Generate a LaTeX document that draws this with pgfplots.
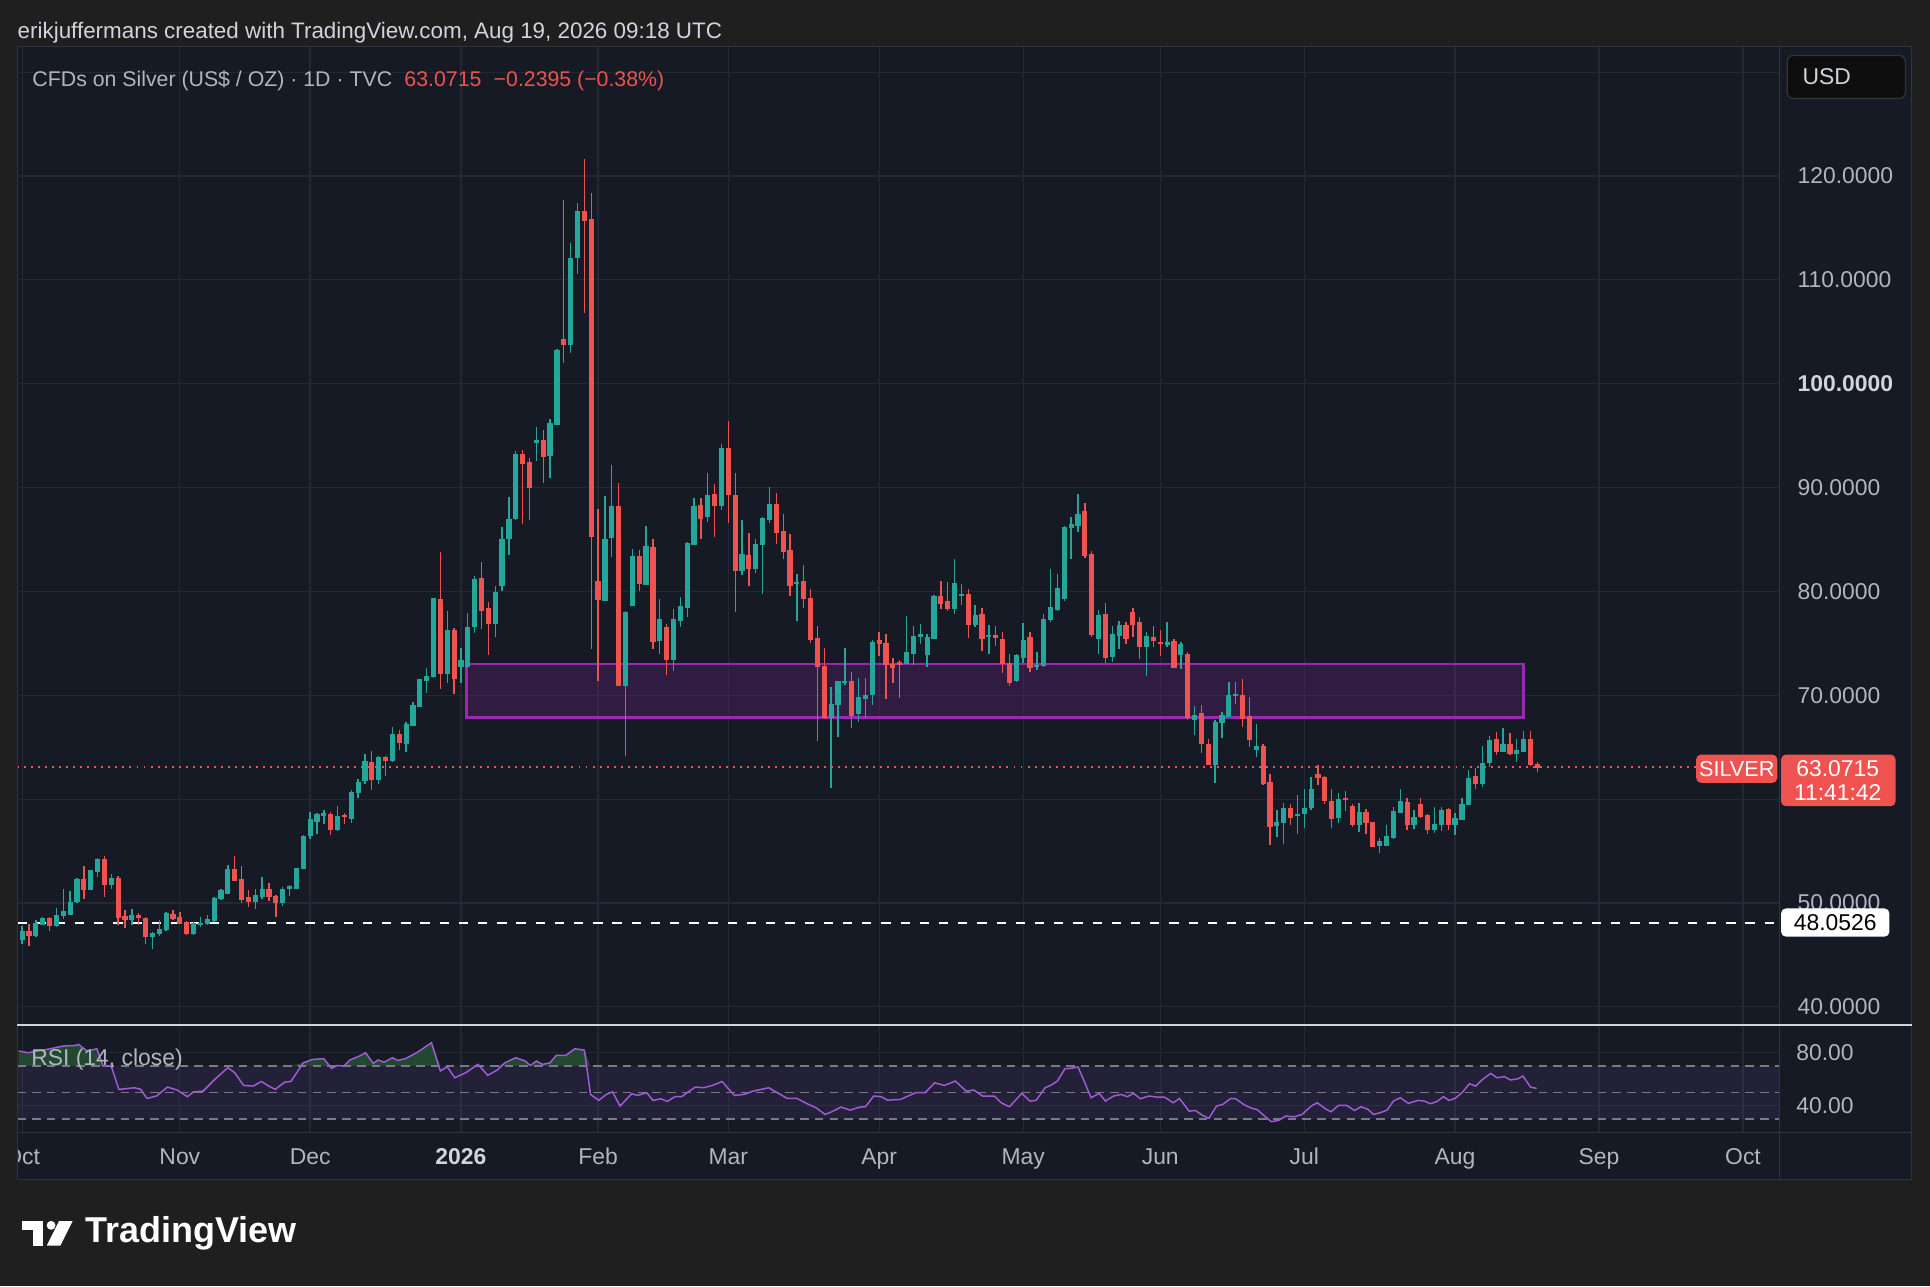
\documentclass[border=0pt]{standalone}
\usepackage{fontspec}
\setmainfont{Liberation Sans}
\usepackage{pgfplots}
\pgfplotsset{compat=1.18}
\usepackage{pgfplotstable}
\definecolor{outerbg}{RGB}{31,31,31}
\definecolor{panebg}{RGB}{22,26,37}
\definecolor{gridc}{RGB}{36,40,52}
\definecolor{borderc}{RGB}{48,52,62}
\definecolor{labc}{RGB}{178,181,190}
\definecolor{headc}{RGB}{209,212,220}
\definecolor{upc}{RGB}{38,166,154}
\definecolor{dnc}{RGB}{239,83,80}
\definecolor{boxc}{RGB}{156,39,176}
\definecolor{rsic}{RGB}{160,92,214}
\definecolor{bandc}{RGB}{126,87,194}
\definecolor{obc}{RGB}{34,72,50}
\definecolor{dashc}{RGB}{120,123,134}
\newcommand{\fs}{\fontsize{9.3}{11}\selectfont}

\pgfplotstableread{
i o h l c
0 46.5 47.8 46.1 47.3
1 47.3 48.0 45.9 46.9
2 46.9 48.4 46.7 48.0
3 47.9 48.7 47.9 48.5
4 48.5 48.7 47.3 47.8
5 47.8 49.5 47.7 48.8
6 48.8 51.3 48.5 49.2
7 48.9 51.2 48.8 50.1
8 50.1 52.4 50.0 52.3
9 52.3 53.6 50.4 51.3
10 51.3 53.2 51.3 53.1
11 53.0 54.3 52.5 54.2
12 54.2 54.5 50.6 51.8
13 51.8 52.8 51.3 52.4
14 52.4 52.6 47.9 48.6
15 48.7 49.3 47.6 48.4
16 48.4 49.4 47.9 48.8
17 48.8 49.0 47.9 48.6
18 48.5 48.7 46.1 46.8
19 46.8 47.2 45.6 47.1
20 47.1 48.4 46.8 47.5
21 47.4 49.1 47.3 49.0
22 48.9 49.3 48.4 48.5
23 48.6 49.1 48.0 48.0
24 48.1 48.3 46.9 47.1
25 47.1 48.2 46.9 48.0
26 47.9 48.7 47.7 48.0
27 48.0 48.8 47.9 48.4
28 48.3 50.6 48.2 50.4
29 50.4 51.3 50.3 51.2
30 50.9 53.7 50.9 53.2
31 53.2 54.5 52.1 52.2
32 52.3 53.6 50.0 50.3
33 50.5 51.3 49.6 50.1
34 50.1 51.3 49.4 50.7
35 50.6 52.5 50.4 51.3
36 51.3 51.9 50.2 50.6
37 50.6 50.8 48.7 50.0
38 50.0 51.5 49.75 51.35
39 51.4 51.7 50.7 51.6
40 51.4 53.4 51.3 53.3
41 53.3 56.55 53.25 56.4
42 56.45 58.8 56.2 58.0
43 57.8 58.7 56.65 58.5
44 58.45 59.0 57.6 58.6
45 58.5 58.75 56.55 57.1
46 57.1 59.3 56.9 58.3
47 58.4 58.7 57.6 58.3
48 58.1 60.9 57.7 60.65
49 60.6 61.9 60.1 61.65
50 61.8 64.3 61.5 63.6
51 63.55 64.6 60.9 61.9
52 61.9 64.15 61.5 64.0
53 64.0 64.15 62.2 63.7
54 63.7 66.9 63.6 66.25
55 66.25 66.7 64.7 65.4
56 65.35 67.4 64.5 67.2
57 67.1 69.4 67.1 69.05
58 68.95 71.6 68.9 71.5
59 71.4 72.65 70.25 71.85
60 71.8 79.4 71.7 79.3
61 79.2 83.8 70.6 72.1
62 72.1 78.15 71.2 76.2
63 76.2 76.45 70.1 71.6
64 72.8 74.6 71.2 73.35
65 72.75 77.95 72.65 76.5
66 76.6 81.45 75.95 81.2
67 81.3 82.8 76.4 78.2
68 78.4 79.0 73.9 76.9
69 76.9 80.5 75.6 79.9
70 80.6 86.2 80.0 85.05
71 85.05 89.1 83.5 86.9
72 87.0 93.5 86.9 93.2
73 93.2 93.65 86.5 92.3
74 92.4 92.8 86.9 90.0
75 94.3 95.8 92.6 94.55
76 94.55 95.5 90.4 93.0
77 93.05 96.6 90.9 96.2
78 96.1 103.3 96.05 103.2
79 104.3 117.7 102.0 103.8
80 103.8 113.5 103.0 112.1
81 112.1 117.4 110.6 116.6
82 116.6 121.6 106.8 115.7
83 115.8 118.4 74.45 85.3
84 81.0 87.9 71.4 79.2
85 79.15 89.2 79.15 85.0
86 85.2 92.2 83.3 88.2
87 88.2 90.4 70.9 70.9
88 70.9 78.1 64.2 78.0
89 78.6 84.06 78.6 83.4
90 83.4 84.0 80.08 80.8
91 80.7 86.3 80.7 84.3
92 84.2 85.0 74.46 75.17
93 75.27 79.3 74.0 77.35
94 76.55 76.87 72.0 73.47
95 73.47 78.28 72.38 77.26
96 77.2 79.5 76.6 78.54
97 78.47 84.77 77.5 84.64
98 84.55 89.03 84.55 88.23
99 88.3 88.97 85.0 87.04
100 87.2 91.4 86.66 89.2
101 89.3 90.35 85.28 88.23
102 88.23 94.2 87.85 93.78
103 93.78 96.41 86.63 89.29
104 89.29 91.4 78.0 82.0
105 82.0 86.9 81.6 83.6
106 83.5 85.6 80.56 82.2
107 82.23 85.05 81.75 84.48
108 84.48 87.14 79.73 87.04
109 86.88 90.09 86.63 88.39
110 88.39 89.45 84.54 85.7
111 85.76 87.43 83.1 83.83
112 83.9 85.5 79.57 80.56
113 80.77 81.65 77.16 80.85
114 80.95 82.55 78.38 79.28
115 79.34 80.2 75.07 75.33
116 75.43 76.71 65.6 72.76
117 72.76 74.53 67.73 67.85
118 67.85 70.84 61.05 69.14
119 69.07 71.38 66.03 71.32
120 71.2 74.53 71.0 71.32
121 71.32 72.22 66.83 68.0
122 68.2 71.64 67.47 69.8
123 69.7 71.7 67.78 70.0
124 70.1 75.33 69.07 75.1
125 75.26 76.13 73.8 75.0
126 75.0 75.9 69.64 72.98
127 73.0 73.6 71.15 72.7
128 73.14 73.4 69.77 72.98
129 73.08 77.67 73.08 74.1
130 74.04 76.67 72.92 75.7
131 75.65 76.86 74.9 75.87
132 73.94 75.9 72.69 75.55
133 75.48 79.66 75.48 79.5
134 79.5 81.0 78.28 78.85
135 79.0 80.87 78.1 78.3
136 78.37 83.09 77.83 80.78
137 79.56 80.68 78.69 79.75
138 79.75 80.2 75.48 76.77
139 76.77 78.69 76.61 77.73
140 77.83 78.44 74.3 75.42
141 75.65 76.77 73.94 75.81
142 75.74 76.67 74.75 75.58
143 75.42 76.13 72.12 73.08
144 73.08 73.94 70.93 71.25
145 71.41 73.97 71.25 73.8
146 73.62 76.99 73.08 75.26
147 75.55 76.06 72.28 72.69
148 72.76 74.2 72.44 72.92
149 72.82 77.83 72.69 77.32
150 77.32 82.16 77.09 78.47
151 78.21 81.64 78.15 80.3
152 79.33 86.3 79.11 86.17
153 86.14 87.2 83.09 86.49
154 86.33 89.38 85.69 87.45
155 87.68 88.48 83.19 83.44
156 83.57 83.89 75.65 75.87
157 75.42 78.21 73.98 77.73
158 77.83 78.92 73.14 73.65
159 73.72 76.67 73.18 75.9
160 75.74 77.16 74.46 76.71
161 76.71 77.03 74.94 75.42
162 77.99 78.38 75.58 76.83
163 77.03 77.51 73.46 74.68
164 74.68 76.06 71.86 75.65
165 75.58 76.71 74.62 75.23
166 75.13 76.29 73.82 75.0
167 74.85 77.03 74.62 75.1
168 75.23 75.39 72.7 72.7
169 73.95 75.1 72.53 74.94
170 73.95 74.14 67.62 67.88
171 67.62 68.97 66.18 68.1
172 68.27 69.07 64.42 65.31
173 65.31 65.76 63.29 63.29
174 63.29 67.62 61.53 67.37
175 67.37 68.43 65.92 68.04
176 67.95 71.32 67.95 69.97
177 69.97 71.25 69.13 70.06
178 70.03 71.57 66.92 67.79
179 67.95 69.87 65.06 65.7
180 64.8 67.21 64.09 65.06
181 65.12 65.28 61.37 61.53
182 61.59 62.39 55.59 57.36
183 57.45 58.96 56.39 57.77
184 57.77 59.6 55.69 59.12
185 59.12 59.51 57.52 58.25
186 58.44 60.4 56.65 58.5
187 58.6 60.98 57.25 59.06
188 59.18 62.1 58.95 60.98
189 62.39 63.29 61.36 62.07
190 62.1 62.23 59.5 59.85
191 59.82 60.98 57.25 58.15
192 58.25 60.56 57.67 59.98
193 60.08 60.78 58.86 59.92
194 59.34 59.5 57.35 57.57
195 57.51 59.66 56.87 58.73
196 58.73 59.05 56.65 57.77
197 57.77 57.83 55.36 55.42
198 55.52 56.23 54.78 55.9
199 55.52 57.51 55.52 56.45
200 56.29 59.21 56.13 58.8
201 58.73 60.94 58.73 59.76
202 59.66 60.08 57.03 57.57
203 57.57 58.95 57.13 58.2
204 59.5 60.08 58.15 58.31
205 58.47 58.54 56.65 57.03
206 57.03 59.21 56.77 57.61
207 57.51 59.27 56.97 58.95
208 59.02 59.18 57.03 57.51
209 57.51 58.63 56.55 58.15
210 58.05 60.08 57.99 59.5
211 59.5 62.8 59.43 62.0
212 62.16 62.96 60.94 61.46
213 61.52 65.15 61.2 63.45
214 63.54 66.08 63.06 65.69
215 65.76 66.5 64.25 64.57
216 64.57 66.82 64.57 65.31
217 65.31 66.34 64.25 64.41
218 64.41 65.76 63.54 64.73
219 64.57 66.59 64.57 65.79
220 65.79 66.59 63.19 63.31
221 63.31 63.6 62.65 63.07
}\candles
\pgfplotstablecreatecol[expr={(\thisrow{o}+\thisrow{c})/2}]{bm}{\candles}
\pgfplotstablecreatecol[expr={abs(\thisrow{c}-\thisrow{o})/2+0.04}]{bh}{\candles}
\pgfplotstablecreatecol[expr={(\thisrow{h}+\thisrow{l})/2}]{wm}{\candles}
\pgfplotstablecreatecol[expr={(\thisrow{h}-\thisrow{l})/2}]{wh}{\candles}

\pgfplotstableread{
i r
-0.5 81.3
0.9 80.0
4.1 83.0
5.9 85.0
7.7 85.5
8.2 86.3
9.5 81.3
10.9 83.0
11.8 69.9
13.0 69.9
14.1 52.3
15.5 53.05
16.4 53.55
17.3 52.3
18.2 45.5
19.6 47.3
21.2 54.1
22.6 51.8
24.1 46.8
25.0 50.5
26.4 51.0
28.2 60.35
30.0 68.7
31.0 64.9
32.3 55.3
33.7 54.8
34.9 58.3
35.8 55.3
36.9 52.3
38.3 57.8
39.2 58.3
41.0 72.4
42.4 75.0
44.0 75.5
45.1 68.2
46.0 70.4
46.9 69.9
47.8 74.5
49.2 77.5
50.1 80.0
51.2 71.9
51.9 74.5
52.8 72.9
54.0 76.2
54.8 74.2
55.9 75.5
57.7 80.5
59.7 87.6
61.0 66.2
62.0 69.4
63.1 61.1
64.7 64.9
66.5 71.2
67.9 62.9
69.3 66.9
70.4 72.4
72.0 76.2
73.4 73.7
74.1 70.4
75.0 73.7
75.9 71.2
77.0 72.4
77.9 78.0
79.3 78.0
80.6 83.0
82.0 82.0
82.9 48.5
84.1 44.0
85.2 48.5
86.1 50.5
87.2 39.7
88.9 49.0
89.8 47.8
91.1 49.8
92.0 44.0
93.2 45.2
94.1 43.2
95.2 46.8
96.2 46.8
97.3 51.0
98.2 54.05
99.4 53.55
100.7 55.3
102.1 58.3
103.0 52.8
103.9 47.8
105.3 48.5
106.6 51.0
108.9 53.55
110.3 49.3
111.6 45.5
113.0 45.5
114.4 41.7
115.8 38.4
117.1 33.4
118.0 35.2
119.4 38.9
120.8 36.7
122.1 38.9
123.0 39.2
124.2 47.3
125.3 46.8
126.2 44.2
128.1 44.7
130.3 49.8
131.7 49.8
133.1 57.3
134.5 55.3
136.1 58.6
137.7 51.0
138.8 51.8
140.1 47.3
141.8 47.3
142.8 42.2
144.0 39.2
145.8 49.3
147.0 43.5
147.9 44.0
149.2 53.55
150.1 55.6
151.0 58.6
152.1 67.9
153.0 68.2
154.0 69.2
154.8 59.8
155.9 46.0
157.1 49.3
158.0 43.5
159.2 47.3
160.3 48.5
161.2 46.8
162.1 49.3
163.1 45.2
164.3 47.3
165.5 46.5
166.6 46.5
167.9 42.2
168.8 45.5
170.2 35.9
171.1 36.4
172.2 32.6
173.1 30.4
174.2 39.7
175.1 40.9
176.3 45.5
177.0 45.2
178.3 40.5
179.4 37.9
180.1 37.2
181.2 32.2
182.2 27.9
183.3 28.9
184.3 32.2
185.5 31.6
186.7 33.4
188.0 39.7
188.9 42.2
190.0 37.9
190.9 35.4
192.0 40.2
193.2 40.2
194.3 36.4
195.3 39.2
196.3 37.2
197.1 33.4
198.1 34.7
199.1 36.7
200.0 43.5
201.0 46.0
202.2 41.7
203.6 44.0
204.5 43.5
205.4 41.5
206.3 43.0
207.3 46.8
208.1 44.0
209.0 45.5
210.1 50.3
211.1 56.6
212.0 54.8
213.0 59.8
214.2 64.4
215.1 61.1
216.2 61.9
217.1 59.4
218.2 60.4
218.9 62.4
220.0 54.05
220.9 53.05
}\rsi

\begin{document}
\begin{tikzpicture}
\path[use as bounding box] (0,0) rectangle (784pt,-522.5pt);
\fill[outerbg] (0,0) rectangle (784pt,-522.5pt);
\begin{scope}[x=0.5pt,y=-0.5pt]
\fill[panebg] (14,38) rectangle (1553,958);
\end{scope}

% ---------------- price pane ----------------
\begin{axis}[at={(7pt,-19pt)}, anchor=north west, scale only axis,
  width=716pt, height=397pt,
  xmin=-0.718, xmax=256.37, ymin=38.34, ymax=132.44,
  axis line style={draw=none}, major tick length=0pt,
  xtick={0,23,42,64,84,103,125,146,166,187,209,230,251}, xticklabels={},
  ytick={40,50,...,130},
  yticklabels={40.0000,50.0000,{},70.0000,80.0000,90.0000,\textbf{\color{headc}100.0000},110.0000,120.0000,{}},
  yticklabel pos=right,
  yticklabel style={anchor=west, inner sep=0pt, xshift=7pt, text=labc, font=\fs},
  grid=major, major grid style={draw=gridc, line width=0.5pt},
  clip=true]
\fill[boxc, fill opacity=0.2] (axis cs:64.8,67.85) rectangle (axis cs:219,73.0);
\draw[boxc, line width=1.1pt] (axis cs:64.8,67.85) rectangle (axis cs:219,73.0);
\addplot[white, line width=0.8pt, dash pattern=on 3.8pt off 4pt] coordinates {(-0.718,48.0526) (256.37,48.0526)};
\addplot[dnc, line width=0.8pt, dash pattern=on 0.8pt off 2.05pt] coordinates {(-0.718,63.0715) (244.2,63.0715)};
% wicks
\addplot[draw=none, mark=none,
  restrict expr to domain={\thisrow{c}-\thisrow{o}}{0:1000},
  error bars/.cd, y dir=both, y explicit, error mark=none,
  error bar style={draw=upc, line width=0.55pt, line cap=butt}]
  table[x=i, y=wm, y error=wh] {\candles};
\addplot[draw=none, mark=none,
  restrict expr to domain={\thisrow{c}-\thisrow{o}}{-1000:-0.000001},
  error bars/.cd, y dir=both, y explicit, error mark=none,
  error bar style={draw=dnc, line width=0.55pt, line cap=butt}]
  table[x=i, y=wm, y error=wh] {\candles};
% bodies
\addplot[draw=none, mark=none,
  restrict expr to domain={\thisrow{c}-\thisrow{o}}{0:1000},
  error bars/.cd, y dir=both, y explicit, error mark=none,
  error bar style={draw=upc, line width=2.1pt, line cap=butt}]
  table[x=i, y=bm, y error=bh] {\candles};
\addplot[draw=none, mark=none,
  restrict expr to domain={\thisrow{c}-\thisrow{o}}{-1000:-0.000001},
  error bars/.cd, y dir=both, y explicit, error mark=none,
  error bar style={draw=dnc, line width=2.1pt, line cap=butt}]
  table[x=i, y=bm, y error=bh] {\candles};
\end{axis}

% ---------------- RSI pane ----------------
\begin{axis}[at={(7pt,-416.5pt)}, anchor=north west, scale only axis,
  width=716pt, height=43.5pt,
  xmin=-0.718, xmax=256.37, ymin=19.8, ymax=100.7,
  axis line style={draw=none}, major tick length=0pt,
  xtick={0,23,42,64,84,103,125,146,166,187,209,230,251},
  xticklabels={Oct,Nov,Dec,\textbf{\color{headc}2026},Feb,Mar,Apr,May,Jun,Jul,Aug,Sep,Oct},
  xticklabel style={anchor=base, inner sep=0pt, yshift=-13pt, text=labc, font=\fs},
  ytick={40,80}, yticklabels={40.00,80.00},
  yticklabel pos=right,
  yticklabel style={anchor=west, inner sep=0pt, xshift=6.5pt, text=labc, font=\fs},
  grid=major, major grid style={draw=gridc, line width=0.5pt},
  clip=true]
\fill[bandc, fill opacity=0.12] (axis cs:-0.718,30) rectangle (axis cs:256.37,70);
\addplot[draw=none, fill=obc] table[x=i, y expr={max(\thisrow{r},70)}] {\rsi} -- (axis cs:220.9,70) -- (axis cs:-0.5,70) -- cycle;
\addplot[dashc, line width=0.5pt, dash pattern=on 3.5pt off 2.5pt] coordinates {(-0.718,70) (256.37,70)};
\addplot[dashc, line width=0.5pt, dash pattern=on 3.5pt off 2.5pt] coordinates {(-0.718,50) (256.37,50)};
\addplot[dashc, line width=0.5pt, dash pattern=on 3.5pt off 2.5pt] coordinates {(-0.718,30) (256.37,30)};
\addplot[rsic, line width=0.6pt] table[x=i, y=r] {\rsi};
\end{axis}

% ---------------- frame and labels ----------------
\begin{scope}[x=0.5pt,y=-0.5pt]
\fill[outerbg] (0,900) rectangle (13.8,965);
\draw[borderc, line width=0.5pt] (14,38) rectangle (1553,958);
\draw[borderc, line width=0.5pt] (1446,38) -- (1446,958);
\draw[borderc, line width=0.5pt] (14,920) -- (1553,920);
\draw[headc, line width=0.9pt] (14,832.5) -- (1553,832.5);

\node[anchor=base west, inner sep=0pt, text=headc, font=\fontsize{9.1}{11}\selectfont] at (14,31)
  {erikjuffermans created with TradingView.com, Aug 19, 2026 09:18 UTC};
\node[anchor=base west, inner sep=0pt, font=\fontsize{8.65}{10}\selectfont] at (26,70)
  {\color{labc}CFDs on Silver (US\$ / OZ) · 1D · TVC\hspace{5pt}\color{dnc}63.0715\hspace{5pt}−0.2395 (−0.38\%)};
\node[anchor=base west, inner sep=0pt, text=labc, font=\fs] at (25,866) {RSI (14, close)};

% USD box
\filldraw[fill={rgb,255:red,14;green,14;blue,14}, draw={rgb,255:red,52;green,52;blue,52}, line width=0.5pt, rounded corners=2.5pt] (1452,45) rectangle (1548,80);
\node[anchor=west, inner sep=0pt, text=headc, font=\fs] at (1464,62.5) {USD};

% last price labels
\fill[dnc, rounded corners=2pt] (1378,613) rectangle (1444,636);
\node[text=white, inner sep=0pt, font=\fontsize{8.8}{10}\selectfont] at (1411,624.5) {SILVER};
\fill[dnc, rounded corners=2pt] (1447,613) rectangle (1540,655);
\node[text=white, inner sep=0pt, font=\fs] at (1493,624.5) {63.0715};
\node[text=white, inner sep=0pt, font=\fs] at (1493,644) {11:41:42};
% level label
\fill[white, rounded corners=2pt] (1447,738) rectangle (1535,761);
\node[text=black, inner sep=0pt, font=\fs] at (1491,749.5) {48.0526};

% TradingView logo
\fill[white] (18,992) rectangle (35,999);
\fill[white] (27,992) rectangle (35,1012);
\fill[white] (41.5,995.5) circle (3.6);
\fill[white] (38,1012) -- (48,992) -- (59,992) -- (49,1012) -- cycle;
\node[anchor=west, inner sep=0pt, text=white, font=\fontsize{14.6}{16}\selectfont\bfseries] at (69,1002) {TradingView};
\end{scope}
\end{tikzpicture}
\end{document}
